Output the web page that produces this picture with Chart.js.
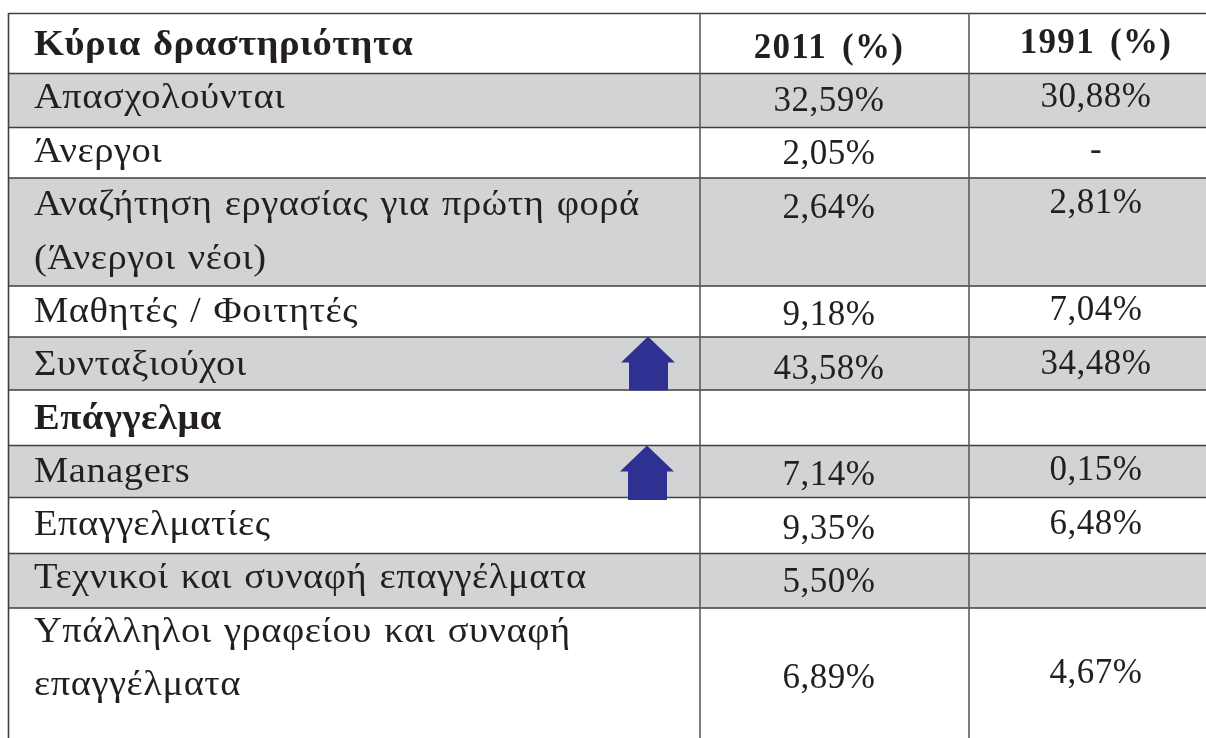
<!DOCTYPE html>
<html>
<head>
<meta charset="utf-8">
<style>
    html, body { margin: 0; padding: 0; background: #fff; }
    canvas { display: block; }
</style>
<script src="https://cdn.jsdelivr.net/npm/chart.js@4"></script>
</head>
<body>
<canvas id="table" width="1206" height="738"></canvas>
<script>
// table content
const categories = [
    "Απασχολούνται", "Άνεργοι", "Αναζήτηση εργασίας για πρώτη φορά", "(Άνεργοι νέοι)",
    "Μαθητές / Φοιτητές", "Συνταξιούχοι", "Επάγγελμα", "Managers", "Επαγγελματίες",
    "Τεχνικοί και συναφή επαγγέλματα", "Υπάλληλοι γραφείου και συναφή", "επαγγέλματα"
];
const headers = ["Κύρια δραστηριότητα", "2011 (%)", "1991 (%)"];
const values_2011 = [32.59, 2.05, 2.64, 9.18, 43.58, 7.14, 9.35, 5.50, 6.89];
const values_1991 = [30.88, null, 2.81, 7.04, 34.48, 0.15, 6.48, null, 4.67];
const bold_categories = ["Επάγγελμα"];
const dash_rows = [1]; // 1991 has a dash here, not an empty cell

// table layout, in canvas units (the axes run 0-1206 and 0-738)
const row_lines = [13.5, 73.5, 127.5, 178, 286, 337, 390, 445.5, 497.5, 553.5, 608];
const col_lines = [8.5, 700, 969];
const gray_rows = [[73.5, 127.5], [178, 286], [337, 390], [445.5, 497.5], [553.5, 608]];
const category_y = [108, 162, 215, 269, 322, 375, 429, 482, 535, 588, 642, 695];
const y_2011 = [111, 164, 218, 325, 379, 485, 539, 592, 688];
const y_1991 = [106.5, 160, 213, 320, 374, 480, 534, 0, 683];
const arrows = [[648, 336.5, 390.5], [647, 445.5, 500]];

const X_MAX = 1206;
const TEXT_COLOR = "#231f20";
const FONT = '"Liberation Serif", serif';

function format_value(value) {
    return value.toFixed(2).replace(".", ",") + "%";
}

function arrow_shape(tip_x, top, bottom) {
    return [
        {x: tip_x, y: top},
        {x: tip_x + 27, y: top + 26},
        {x: tip_x + 20, y: top + 26},
        {x: tip_x + 20, y: bottom},
        {x: tip_x - 19, y: bottom},
        {x: tip_x - 19, y: top + 26},
        {x: tip_x - 27, y: top + 26},
        {x: tip_x, y: top}
    ];
}

const datasets = [];

gray_rows.forEach(([top, bottom]) => {
    datasets.push({
        data: [{x: col_lines[0], y: top}, {x: X_MAX, y: top}, {x: X_MAX, y: bottom}, {x: col_lines[0], y: bottom}, {x: col_lines[0], y: top}],
        showLine: true, fill: "shape", backgroundColor: "#d1d3d4", borderWidth: 0, pointRadius: 0, order: 3
    });
});

row_lines.forEach((y) => {
    datasets.push({
        data: [{x: col_lines[0], y: y}, {x: X_MAX, y: y}],
        showLine: true, borderColor: "#3f3f41", borderWidth: 1.6, pointRadius: 0, order: 2
    });
});

col_lines.forEach((x, i) => {
    datasets.push({
        data: [{x: x, y: 13}, {x: x, y: 738}],
        showLine: true, borderColor: i == 0 ? "#3f3f41" : "#5d5d5f", borderWidth: 1.6, pointRadius: 0, order: 1
    });
});

arrows.forEach(([x, top, bottom]) => {
    datasets.push({
        data: arrow_shape(x, top, bottom),
        showLine: true, fill: "shape", backgroundColor: "#2e3192", borderWidth: 0, pointRadius: 0, order: 0
    });
});

const table_text = {
    id: "table_text",
    afterDatasetsDraw(chart) {
        const ctx = chart.ctx;
        const sx = chart.scales.x;
        const sy = chart.scales.y;

        // the printed labels are wider than Liberation Serif, so they get stretched a bit
        function label(text, x, y, bold) {
            ctx.save();
            ctx.font = (bold ? "bold " : "") + "36px " + FONT;
            ctx.textAlign = "left";
            ctx.letterSpacing = "0.5px";
            ctx.wordSpacing = "2px";
            ctx.translate(sx.getPixelForValue(x), sy.getPixelForValue(y));
            ctx.scale(1.07, 1);
            ctx.fillText(text, 0, 0);
            ctx.restore();
        }

        function cell(text, x, y, bold) {
            ctx.font = (bold ? "bold " : "") + "35px " + FONT;
            ctx.textAlign = "center";
            ctx.letterSpacing = bold ? "1.3px" : "0.5px";
            ctx.wordSpacing = bold ? "5px" : "0px";
            ctx.fillText(text, sx.getPixelForValue(x), sy.getPixelForValue(y));
        }

        ctx.save();
        ctx.fillStyle = TEXT_COLOR;
        ctx.textBaseline = "alphabetic";

        label(headers[0], 34, 55, true);
        cell(headers[1], 829, 58, true);
        cell(headers[2], 1096, 53, true);

        categories.forEach((text, i) => {
            label(text, 34, category_y[i], bold_categories.includes(text));
        });
        values_2011.forEach((v, i) => cell(format_value(v), 829, y_2011[i], false));
        values_1991.forEach((v, i) => {
            if (v !== null) {
                cell(format_value(v), 1096, y_1991[i], false);
            } else if (dash_rows.includes(i)) {
                cell("-", 1096, y_1991[i], false);
            }
        });
        ctx.restore();
    }
};

new Chart(document.getElementById("table"), {
    type: "scatter",
    plugins: [table_text],
    data: {datasets: datasets},
    options: {
        responsive: false,
        animation: false,
        layout: {padding: 0},
        plugins: {legend: {display: false}, tooltip: {enabled: false}},
        scales: {
            x: {type: "linear", min: 0, max: X_MAX, display: false},
            y: {type: "linear", min: 0, max: 738, reverse: true, display: false}
        }
    }
});
</script>
</body>
</html>
